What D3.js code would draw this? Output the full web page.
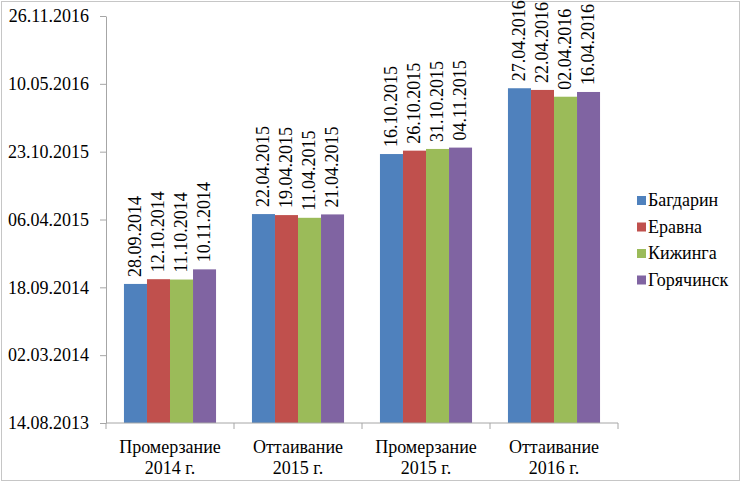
<!DOCTYPE html>
<html>
<head>
<meta charset="utf-8">
<script src="https://cdn.jsdelivr.net/npm/d3@7"></script>
<style>
  body { margin: 0; background: #fff; }
</style>
</head>
<body>
<div id="chart"></div>
<script>
// data
const categories = [["Промерзание", "2014 г."], ["Оттаивание", "2015 г."], ["Промерзание", "2015 г."], ["Оттаивание", "2016 г."]];
const seriesNames = ["Багдарин", "Еравна", "Кижинга", "Горячинск"];
const seriesColors = ["#4F81BD", "#C0504D", "#9BBB59", "#8064A2"];
const bagdarin  = ["28.09.2014", "22.04.2015", "16.10.2015", "27.04.2016"];
const eravna    = ["12.10.2014", "19.04.2015", "26.10.2015", "22.04.2016"];
const kizhinga  = ["11.10.2014", "11.04.2015", "31.10.2015", "02.04.2016"];
const goryachinsk = ["10.11.2014", "21.04.2015", "04.11.2015", "16.04.2016"];
const yTickLabels = ["14.08.2013", "02.03.2014", "18.09.2014", "06.04.2015", "23.10.2015", "10.05.2016", "26.11.2016"];

const seriesValues = [bagdarin, eravna, kizhinga, goryachinsk];
const parse = d3.timeParse("%d.%m.%Y");
const FONT = "Liberation Serif";
const FS = 18;

const W = 742, H = 483;
const margin = {left: 106, right: 124, top: 16, bottom: 60};

const svg = d3.select("#chart").append("svg")
    .attr("width", W).attr("height", H)
    .attr("font-family", FONT)
    .attr("font-size", FS);

// outer chart border
svg.append("rect")
    .attr("x", 1.5).attr("y", 1.5)
    .attr("width", W - 4).attr("height", H - 4)
    .attr("fill", "none").attr("stroke", "#c6c6c6");

const yTicks = yTickLabels.map(parse);
const y = d3.scaleTime()
    .domain([yTicks[0], yTicks[yTicks.length - 1]])
    .range([H - margin.bottom, margin.top]);

const x0 = d3.scaleBand()
    .domain(d3.range(categories.length))
    .range([margin.left, W - margin.right])
    .padding(0);

const x1 = d3.scaleBand()
    .domain(d3.range(seriesNames.length))
    .range([0, x0.bandwidth()])
    .paddingInner(0)
    .paddingOuter(0.78);

// bars
const groups = svg.append("g").selectAll("g")
    .data(categories)
    .join("g")
    .attr("transform", (d, i) => `translate(${x0(i)},0)`);

const cells = (d, ci) => seriesValues.map((s, si) => ({si, date: parse(s[ci]), label: s[ci]}));

groups.selectAll("rect")
    .data(cells)
    .join("rect")
    .attr("x", d => x1(d.si))
    .attr("width", x1.bandwidth())
    .attr("y", d => y(d.date))
    .attr("height", d => y.range()[0] - y(d.date))
    .attr("fill", d => seriesColors[d.si]);

// rotated data labels
groups.selectAll("text.lbl")
    .data(cells)
    .join("text")
    .attr("class", "lbl")
    .attr("transform", d => `translate(${x1(d.si) + x1.bandwidth() / 2},${y(d.date) - 7}) rotate(-90)`)
    .attr("dy", "0.33em")
    .attr("font-family", FONT)
    .attr("font-size", FS)
    .text(d => d.label);

// y axis
const yAxis = svg.append("g")
    .attr("transform", `translate(${margin.left},0)`)
    .call(d3.axisLeft(y).tickValues(yTicks).tickFormat(d3.timeFormat("%d.%m.%Y")).tickSize(6).tickSizeOuter(0).tickPadding(11));
yAxis.attr("font-family", FONT).attr("font-size", FS);
yAxis.selectAll("text").attr("fill", "#000");
yAxis.selectAll("line, path").attr("stroke", "#a6a6a6");

// x axis
const xAxis = svg.append("g")
    .attr("transform", `translate(0,${H - margin.bottom})`);
xAxis.append("line")
    .attr("x1", margin.left).attr("x2", W - margin.right)
    .attr("stroke", "#a6a6a6");
xAxis.selectAll("line.tk")
    .data(d3.range(categories.length + 1))
    .join("line")
    .attr("class", "tk")
    .attr("x1", i => i < categories.length ? x0(i) : x0(i - 1) + x0.bandwidth())
    .attr("x2", i => i < categories.length ? x0(i) : x0(i - 1) + x0.bandwidth())
    .attr("y1", 0).attr("y2", 6)
    .attr("stroke", "#a6a6a6");
const xl = xAxis.selectAll("text")
    .data(categories)
    .join("text")
    .attr("text-anchor", "middle")
    .attr("font-family", FONT)
    .attr("font-size", FS);
xl.append("tspan").attr("x", (d, i) => x0(i) + x0.bandwidth() / 2).attr("y", 30).text(d => d[0]);
xl.append("tspan").attr("x", (d, i) => x0(i) + x0.bandwidth() / 2).attr("y", 51).text(d => d[1]);

// legend
const legend = svg.append("g").attr("transform", "translate(637,206)");
const li = legend.selectAll("g")
    .data(seriesNames)
    .join("g")
    .attr("transform", (d, i) => `translate(0,${i * 26.5})`);
li.append("rect")
    .attr("x", 0).attr("y", -10)
    .attr("width", 9).attr("height", 9)
    .attr("fill", (d, i) => seriesColors[i]);
li.append("text")
    .attr("x", 11).attr("y", 0)
    .attr("font-family", FONT)
    .attr("font-size", FS)
    .text(d => d);
</script>
</body>
</html>
